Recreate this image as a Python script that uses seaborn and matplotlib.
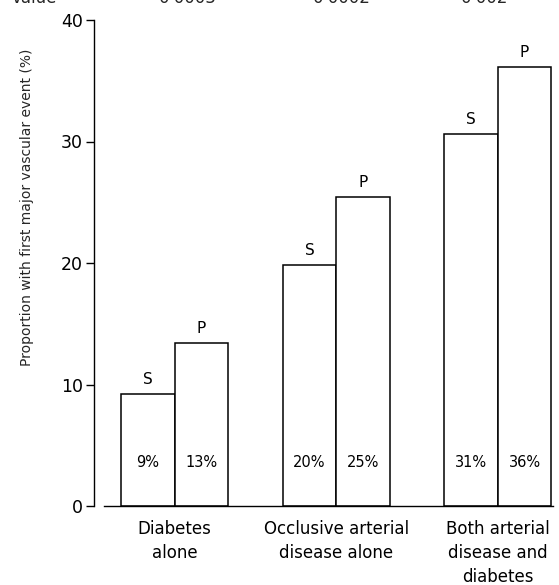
import matplotlib
matplotlib.use("Agg")
import matplotlib.pyplot as plt
import seaborn as sns
import pandas as pd

groups = ["Diabetes\nalone", "Occlusive arterial\ndisease alone", "Both arterial\ndisease and\ndiabetes"]
arms = ["S", "P"]
simvastatin = [9.2, 19.8, 30.6]
placebo = [13.4, 25.4, 36.1]
p_values = ["0·0003", "0·0002", "0·002"]
y_ticks = [0, 10, 20, 30, 40]

df = pd.DataFrame({
    "group": groups * 2,
    "arm": ["S"] * 3 + ["P"] * 3,
    "value": simvastatin + placebo,
})

sns.set_theme(style="ticks")
plt.rcParams["font.family"] = ["DejaVu Sans"]

fig = plt.figure(figsize=(5.59, 5.85), dpi=100)
ax = fig.add_axes([94 / 559, 79 / 585, 1 - 94 / 559, (506 - 20) / 585])

sns.barplot(data=df, x="group", y="value", hue="arm", hue_order=arms,
            order=groups, width=0.662, gap=0, fill=False, color="black",
            linewidth=1.1, errorbar=None, legend=False, ax=ax)
for patch in ax.patches:
    patch.set_facecolor("white")
    patch.set_edgecolor("black")
    patch.set_fill(True)

# arm letters above bars, rounded percentages inside them
for patch in ax.patches:
    h = patch.get_height()
    if h <= 0:
        continue
    cx = patch.get_x() + patch.get_width() / 2
    arm = "S" if h in simvastatin else "P"
    ax.annotate(arm, (cx, h), xytext=(0, 5), textcoords="offset points",
                ha="center", va="bottom", fontsize=11, color="black")
    ax.text(cx, 3.6, f"{h:.0f}%", ha="center", va="center", fontsize=10.5, color="black")

ax.set_xlim(-0.5, 2.379)
ax.set_ylim(0, 40)
ax.set_yticks(y_ticks)
ax.set_yticklabels([str(t) for t in y_ticks], fontsize=12.5)
ax.set_ylabel("Proportion with first major vascular event (%)", fontsize=10)
ax.yaxis.set_label_coords(-0.13, 0.615)
ax.set_xlabel("")
ax.tick_params(axis="y", length=6, width=1, pad=2, color="black", labelcolor="black")
ax.tick_params(axis="x", length=0, pad=10, labelcolor="black")
for lbl in ax.get_xticklabels():
    lbl.set_fontsize(12)
    lbl.set_linespacing(1.45)
ax.spines["top"].set_visible(False)
ax.spines["right"].set_visible(False)
ax.spines["left"].set_color("black")
ax.spines["bottom"].set_color("black")
ax.spines["left"].set_linewidth(1)
ax.spines["bottom"].set_linewidth(1)
ax.spines["bottom"].set_bounds(-0.44, 2.34)

# p-value row along the top edge
fig.text(12 / 559, 1 - 3 / 585, "value", ha="left", va="baseline", fontsize=12)
for x_px, pv in zip([188, 342, 485], p_values):
    fig.text(x_px / 559, 1 - 3 / 585, pv, ha="center", va="baseline", fontsize=12)

fig.savefig("out.png", dpi=100)
